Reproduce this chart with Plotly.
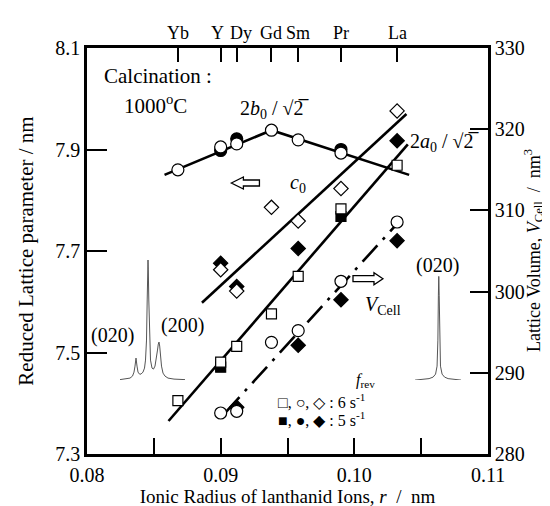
import plotly.graph_objects as go

# ---------------- data ----------------
elements = ["Yb", "Y", "Dy", "Gd", "Sm", "Pr", "La"]
r_elem = [0.0868, 0.0900, 0.0912, 0.0938, 0.0958, 0.0990, 0.1032]

# 2b0/sqrt2 (left axis)
b0_open_r = [0.0868, 0.0900, 0.0912, 0.0938, 0.0958, 0.0990]
b0_open = [7.860, 7.905, 7.911, 7.938, 7.919, 7.893]
b0_fill_r = [0.0900, 0.0912, 0.0990]
b0_fill = [7.898, 7.921, 7.900]
b0_line_r = [0.0858, 0.0938, 0.1041]
b0_line = [7.850, 7.938, 7.850]

# 2a0/sqrt2 (left axis)
a0_open_r = [0.0868, 0.0900, 0.0912, 0.0938, 0.0958, 0.0990, 0.1032]
a0_open = [7.405, 7.481, 7.512, 7.576, 7.650, 7.783, 7.869]
a0_fill_r = [0.0900, 0.0990]
a0_fill = [7.471, 7.768]
a0_line_r = [0.0861, 0.1040]
a0_line = [7.365, 7.910]

# c0 (left axis)
c0_open_r = [0.0900, 0.0912, 0.0938, 0.0958, 0.0990, 0.1032]
c0_open = [7.663, 7.621, 7.786, 7.759, 7.823, 7.976]
c0_fill_r = [0.0900, 0.0912, 0.0958, 0.1032]
c0_fill = [7.676, 7.630, 7.705, 7.917]
c0_line_r = [0.0886, 0.1039]
c0_line = [7.598, 7.970]

# V_Cell (right axis)
V_open_r = [0.0900, 0.0912, 0.0938, 0.0958, 0.0990, 0.1032]
V_open = [285.05, 285.26, 293.75, 295.19, 301.27, 308.57]
V_fill_r = [0.0912, 0.0958, 0.0990, 0.1032]
V_fill = [285.75, 293.39, 299.0, 306.27]
V_line_r = [0.0903, 0.1035]
V_line = [285.0, 308.9]

# XRD inset profiles (relative units)
specL_x = [0, 6, 10, 12.5, 14, 15, 16, 17, 18, 19.5, 21, 23, 24.5, 25.5, 26.5, 27.2, 27.7, 28,
           28.3, 28.8, 29.5, 30.5, 32, 33.5, 35, 36.5, 37.5, 38.3, 39, 39.7, 40.5, 41.5, 43, 45,
           48, 54, 65]
specL_y = [0.5, 1, 2, 4, 8, 14, 22, 14, 8, 6, 6, 8, 12, 20, 40, 80, 110, 120,
           110, 80, 40, 20, 12, 11, 14, 22, 30, 36, 38, 34, 24, 14, 7, 4,
           2, 1, 0.5]
specR_x = [0, 8, 14, 18, 20.5, 22, 22.8, 23.3, 23.7, 24.1, 24.6, 25.4, 27, 29.5, 33, 39, 46]
specR_y = [0, 0.5, 1.5, 3, 6, 14, 40, 85, 104, 85, 40, 14, 6, 3, 1.5, 0.5, 0]

x_ticks = [0.08, 0.085, 0.09, 0.095, 0.10, 0.105, 0.11]
x_ticktext = ["0.08", "", "0.09", "", "0.10", "", "0.11"]
yl_ticks = [7.3, 7.5, 7.7, 7.9, 8.1]
yr_ticks = [280, 290, 300, 310, 320, 330]

FONT = "Liberation Serif"
fig = go.Figure()


def line(x, y, yaxis="y", dash="solid", width=2.6):
    fig.add_trace(go.Scatter(x=x, y=y, mode="lines", yaxis=yaxis,
                             line=dict(color="black", width=width, dash=dash),
                             showlegend=False, hoverinfo="skip"))


def pts(x, y, symbol, size, filled, yaxis="y"):
    fig.add_trace(go.Scatter(
        x=x, y=y, mode="markers", yaxis=yaxis,
        marker=dict(symbol=symbol, size=size,
                    color="black" if filled else "white",
                    line=dict(color="black", width=1.2)),
        showlegend=False, hoverinfo="skip"))


# fit lines
line(b0_line_r, b0_line)
line(a0_line_r, a0_line)
line(c0_line_r, c0_line)
line(V_line_r, V_line, yaxis="y2", dash="22px,8px,3px,8px")

# filled (5 s-1) first, open (6 s-1) on top
pts(b0_fill_r, b0_fill, "circle", 12, True)
pts(a0_fill_r, a0_fill, "square", 10, True)
pts(c0_fill_r, c0_fill, "diamond", 11, True)
pts(V_fill_r, V_fill, "diamond", 11, True, yaxis="y2")
pts(b0_open_r, b0_open, "circle", 12, False)
pts(a0_open_r, a0_open, "square", 10, False)
pts(c0_open_r, c0_open, "diamond", 11, False)
pts(V_open_r, V_open, "circle", 12, False, yaxis="y2")

# invisible trace to bring the top axis to life
fig.add_trace(go.Scatter(x=r_elem, y=[7.3] * len(r_elem), xaxis="x2", yaxis="y",
                         mode="markers", marker=dict(opacity=0), showlegend=False,
                         hoverinfo="skip"))

# XRD insets
fig.add_trace(go.Scatter(x=specL_x, y=specL_y, xaxis="x3", yaxis="y3", mode="lines",
                         line=dict(color="#555555", width=1), showlegend=False,
                         hoverinfo="skip"))
fig.add_trace(go.Scatter(x=specR_x, y=specR_y, xaxis="x4", yaxis="y4", mode="lines",
                         line=dict(color="#555555", width=1), showlegend=False,
                         hoverinfo="skip"))

axis_common = dict(showline=True, linecolor="black", linewidth=2.5, showgrid=False,
                   zeroline=False, ticks="inside", tickcolor="black", tickwidth=1.5,
                   automargin=False)
tf20 = dict(family=FONT, size=20, color="black")

fig.update_layout(
    width=550, height=506,
    margin=dict(l=79, r=70, t=40, b=60),
    paper_bgcolor="white", plot_bgcolor="white",
    font=dict(family=FONT, color="black", size=20),
    xaxis=dict(range=[0.08, 0.11], tickvals=x_ticks, ticktext=x_ticktext, ticklen=16,
               tickfont=tf20, ticklabelstandoff=1,
               title=dict(text="Ionic Radius of lanthanid Ions, <i>r</i>  /  nm",
                          font=dict(size=19), standoff=0),
               **axis_common),
    xaxis2=dict(range=[0.08, 0.11], overlaying="x", side="top", anchor="y",
                tickvals=r_elem, showticklabels=False, ticklen=14,
                **axis_common),
    yaxis=dict(range=[7.3, 8.1], tickvals=yl_ticks, tickformat=".1f", ticklen=20,
               tickfont=tf20,
               title=dict(text="Reduced Lattice parameter / nm", font=dict(size=21),
                          standoff=16),
               **axis_common),
    yaxis2=dict(range=[280, 330], overlaying="y", side="right", anchor="x",
                tickvals=yr_ticks, ticklen=18, tickfont=tf20,
                **axis_common),
    xaxis3=dict(domain=[0.0823, 0.2444], anchor="y3", range=[0, 65], visible=False),
    yaxis3=dict(domain=[0.182, 0.478], anchor="x3", range=[0, 120], visible=False),
    xaxis4=dict(domain=[0.818, 0.933], anchor="y4", range=[0, 46], visible=False),
    yaxis4=dict(domain=[0.182, 0.438], anchor="x4", range=[0, 104], visible=False),
)

# right-axis title, placed close to the figure edge as in the original
fig.add_annotation(x=1, y=0.5, xref="paper", yref="paper", xanchor="center",
                   yanchor="middle", xshift=45, textangle=-90, showarrow=False,
                   text="Lattice Volume, <i>V</i><sub>Cell</sub>  /  nm<sup>3</sup>",
                   font=dict(family=FONT, size=18, color="black"))

# element names above the top axis (Y and Dy nudged apart as in the original)
nudge = {"Y": -3, "Dy": 4}
for name, r in zip(elements, r_elem):
    fig.add_annotation(x=r, y=1, xref="x", yref="paper", yanchor="bottom",
                       yshift=3, xshift=nudge.get(name, 0), text=name, showarrow=False,
                       font=dict(family=FONT, size=18, color="black"))

ann = [
    dict(x=0.08531, y=8.045, text="Calcination :", size=21),
    dict(x=0.08516, y=7.988, text="1000<sup>o</sup>C", size=21),
    dict(x=0.09406, y=7.978, text="2<i>b</i><sub>0</sub> / √2\u0305"),
    dict(x=0.10678, y=7.913, text="2<i>a</i><sub>0</sub> / √2\u0305"),
    dict(x=0.09578, y=7.834, text="<i>c</i><sub>0</sub>"),
    dict(x=0.10214, y=7.592, text="<i>V</i><sub>Cell</sub>"),
    dict(x=0.08194, y=7.534, text="(020)"),
    dict(x=0.08718, y=7.554, text="(200)"),
    dict(x=0.10625, y=7.672, text="(020)"),
    dict(x=0.10087, y=7.444, text="<i>f</i><sub>rev</sub>", size=16),
    dict(x=0.09414, y=7.404, xanchor="left", size=16,
         text="□, ○, ◇ : 6 s<sup>-1</sup>"),
    dict(x=0.09414, y=7.369, xanchor="left", size=16,
         text="■, ●, ◆ : 5 s<sup>-1</sup>"),
]
for a in ann:
    size = a.pop("size", 20)
    d = dict(xref="x", yref="y", showarrow=False,
             font=dict(family=FONT, size=size, color="black"))
    d.update(a)
    fig.add_annotation(**d)


def arrow_path(tail, head_base, tip, yc, h, s):
    return (f"M {tip},{yc} L {head_base},{yc + h} L {head_base},{yc + s} "
            f"L {tail},{yc + s} L {tail},{yc - s} L {head_base},{yc - s} "
            f"L {head_base},{yc - h} Z")


fig.add_shape(type="path", xref="x", yref="y",
              path=arrow_path(0.0929, 0.0917, 0.0908, 7.834, 0.0118, 0.0059),
              line=dict(color="black", width=1.3), fillcolor="white")
fig.add_shape(type="path", xref="x", yref="y2",
              path=arrow_path(0.0999, 0.10147, 0.10214, 301.59, 0.74, 0.37),
              line=dict(color="black", width=1.3), fillcolor="white")

fig.write_html("out.html")
